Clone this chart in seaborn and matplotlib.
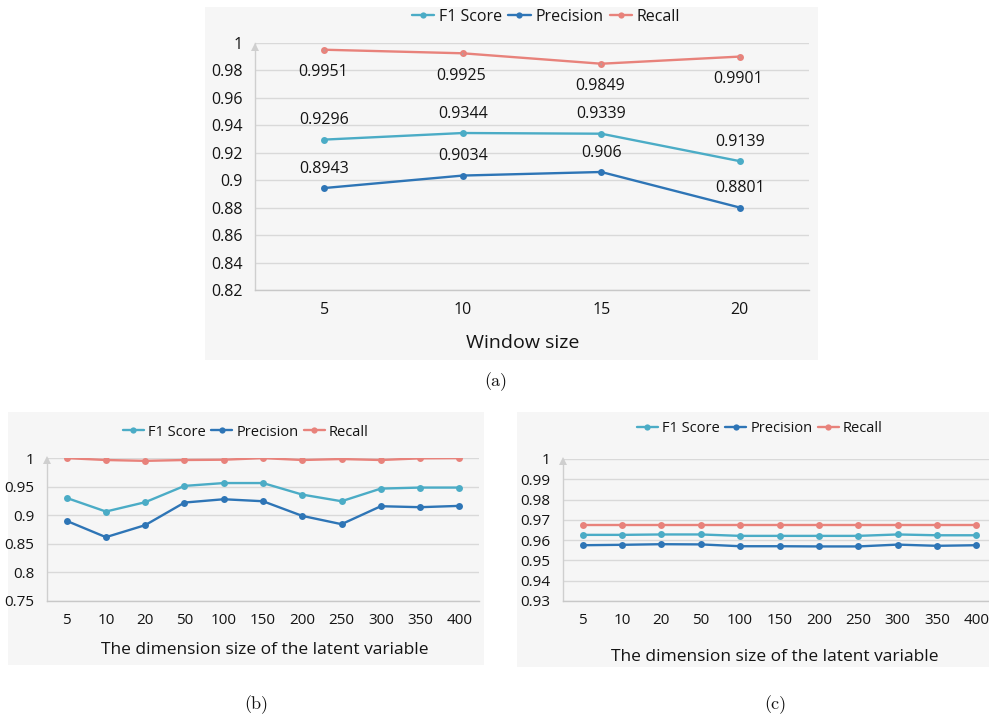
import numpy as np
import pandas as pd
import matplotlib
matplotlib.use("Agg")
import matplotlib.pyplot as plt
import seaborn as sns
from matplotlib.patches import Rectangle
from matplotlib.lines import Line2D

# ---- data -------------------------------------------------------------
metrics = ["F1 Score", "Precision", "Recall"]
metric_colors = ["#4bacc6", "#2e75b6", "#e8827b"]

window_sizes = ["5", "10", "15", "20"]
f1_window = [0.9296, 0.9344, 0.9339, 0.9139]
precision_window = [0.8943, 0.9034, 0.906, 0.8801]
recall_window = [0.9951, 0.9925, 0.9849, 0.9901]

latent_dims = ["5", "10", "20", "50", "100", "150", "200", "250", "300", "350", "400"]
f1_latent_b = [0.9302, 0.9064, 0.9227, 0.9512, 0.9562, 0.9562, 0.9360, 0.9244, 0.9465, 0.9483, 0.9483]
precision_latent_b = [0.8901, 0.8616, 0.8826, 0.9221, 0.9279, 0.9244, 0.8988, 0.8843, 0.9157, 0.9140, 0.9163]
recall_latent_b = [0.9998, 0.9965, 0.9950, 0.9965, 0.9970, 0.9998, 0.9965, 0.9982, 0.9965, 0.9994, 0.9998]

f1_latent_c = [0.9626, 0.9626, 0.9628, 0.9628, 0.9621, 0.9621, 0.9621, 0.9621, 0.9628, 0.9624, 0.9624]
precision_latent_c = [0.9575, 0.9577, 0.9580, 0.9579, 0.9570, 0.9570, 0.9569, 0.9569, 0.9578, 0.9572, 0.9575]
recall_latent_c = [0.9677] * 11

yticks_a = [0.82, 0.84, 0.86, 0.88, 0.90, 0.92, 0.94, 0.96, 0.98, 1.00]
yticks_b = [0.75, 0.80, 0.85, 0.90, 0.95, 1.00]
yticks_c = [0.93, 0.94, 0.95, 0.96, 0.97, 0.98, 0.99, 1.00]

# ---- style ------------------------------------------------------------
sns.set_theme(style="white")
plt.rcParams["font.family"] = ["Open Sans", "DejaVu Sans"]
TEXT = "#141414"
GRID = "#d9d9d9"
PANEL_BG = "#f6f6f6"

W, H = 989, 718
fig = plt.figure(figsize=(W / 100, H / 100), dpi=100)
fig.patch.set_facecolor("white")


def fx(px):
    return px / W


def fy(py):
    return 1 - py / H


def panel_bg(x0, y0, x1, y1):
    fig.patches.append(Rectangle((fx(x0), fy(y1)), fx(x1 - x0), (y1 - y0) / H,
                                 transform=fig.transFigure, facecolor=PANEL_BG,
                                 edgecolor="none", zorder=-10))


def make_axes(left, top, right, bottom):
    return fig.add_axes([fx(left), fy(bottom), fx(right - left), (bottom - top) / H])


def long_frame(cats, series):
    rows = []
    for name, vals in zip(metrics, series):
        for c, v in zip(cats, vals):
            rows.append({"x": c, "value": v, "metric": name})
    return pd.DataFrame(rows)


def fmt(v):
    s = f"{v:.2f}".rstrip("0").rstrip(".")
    return s


def draw_panel(ax, cats, series, yticks, tick_size):
    df = long_frame(cats, series)
    sns.lineplot(data=df, x="x", y="value", hue="metric", hue_order=metrics,
                 palette=dict(zip(metrics, metric_colors)), marker="o",
                 markersize=5, markeredgewidth=0, linewidth=1.7, sort=False,
                 legend=False, ax=ax, zorder=3)
    n = len(cats)
    ax.set_facecolor("none")
    ax.set_xlim(-0.5, n - 0.5)
    ax.set_ylim(yticks[0], yticks[-1])
    ax.set_yticks(yticks)
    ax.set_yticklabels([fmt(t) for t in yticks])
    ax.set_xticks(np.arange(n))
    ax.set_xticklabels(cats)
    ax.set_xticks(np.arange(n + 1) - 0.5, minor=True)
    ax.tick_params(axis="x", which="major", length=0, pad=9,
                   labelsize=tick_size, labelcolor=TEXT)
    ax.tick_params(axis="x", which="minor", length=5, width=1, color="#c8c8c8")
    ax.tick_params(axis="y", length=7, width=1, color=GRID, pad=2,
                   labelsize=tick_size, labelcolor=TEXT)
    ax.yaxis.grid(True, color=GRID, linewidth=1)
    ax.xaxis.grid(False)
    ax.set_axisbelow(True)
    for side in ("top", "right"):
        ax.spines[side].set_visible(False)
    ax.spines["left"].set_color("#cfcfcf")
    ax.spines["bottom"].set_color("#c8c8c8")
    ax.spines["left"].set_linewidth(1)
    ax.spines["bottom"].set_linewidth(1)
    ax.set_xlabel("")
    ax.set_ylabel("")
    # arrow head on the value axis
    ax.plot([0], [0.985], marker="^", markersize=6, color="#cfcfcf",
            markeredgewidth=0, transform=ax.transAxes, clip_on=False, zorder=2)


def add_legend(cx, cy, size):
    handles = [Line2D([], [], color=c, marker="o", markersize=4.5,
                      markeredgewidth=0, linewidth=1.7) for c in metric_colors]
    fig.legend(handles, metrics, loc="center", bbox_to_anchor=(fx(cx), fy(cy)),
               ncol=3, frameon=False, fontsize=size, handlelength=1.4,
               handletextpad=0.3, columnspacing=0.4, labelcolor=TEXT,
               borderpad=0, borderaxespad=0)


# ---- panel (a): window size -------------------------------------------
panel_bg(205, 7, 818, 360)
ax_a = make_axes(255, 43, 809, 290)
draw_panel(ax_a, window_sizes, [f1_window, precision_window, recall_window],
           yticks_a, 11.5)
for i, c in enumerate(window_sizes):
    ax_a.annotate(f"{f1_window[i]:g}", (i, f1_window[i]), xytext=(0, 14),
                  textcoords="offset points", ha="center", va="center",
                  fontsize=11.5, color=TEXT)
    ax_a.annotate(f"{precision_window[i]:g}", (i, precision_window[i]),
                  xytext=(0, 14), textcoords="offset points", ha="center",
                  va="center", fontsize=11.5, color=TEXT)
    ax_a.annotate(f"{recall_window[i]:g}", (i, recall_window[i]),
                  xytext=(-1, -16), textcoords="offset points", ha="center",
                  va="center", fontsize=11.5, color=TEXT,
                  arrowprops=dict(arrowstyle="-", color="#a6a6a6", lw=0.8,
                                  shrinkA=7, shrinkB=1))
add_legend(546, 17, 11.5)
fig.text(fx(523), fy(343), "Window size", ha="center", va="center",
         fontsize=14, color=TEXT)
fig.text(fx(496), fy(382), "(a)", ha="center", va="center", fontsize=13,
         family="cmr10", color="#111111")

# ---- panel (b): latent size -------------------------------------------
panel_bg(8, 412, 484, 665)
ax_b = make_axes(47, 458, 479, 601)
draw_panel(ax_b, latent_dims, [f1_latent_b, precision_latent_b, recall_latent_b],
           yticks_b, 11)
add_legend(246, 432, 10.5)
fig.text(fx(265), fy(650), "The dimension size of the latent variable",
         ha="center", va="center", fontsize=12.5, color=TEXT)
fig.text(fx(256), fy(705), "(b)", ha="center", va="center", fontsize=13,
         family="cmr10", color="#111111")

# ---- panel (c): latent size -------------------------------------------
panel_bg(517, 412, 989, 667)
ax_c = make_axes(563, 459, 996, 601)
draw_panel(ax_c, latent_dims, [f1_latent_c, precision_latent_c, recall_latent_c],
           yticks_c, 11)
add_legend(760, 429, 10.5)
fig.text(fx(775), fy(657), "The dimension size of the latent variable",
         ha="center", va="center", fontsize=12.5, color=TEXT)
fig.text(fx(775), fy(705), "(c)", ha="center", va="center", fontsize=13,
         family="cmr10", color="#111111")

fig.savefig("out.png", dpi=100, facecolor="white")
